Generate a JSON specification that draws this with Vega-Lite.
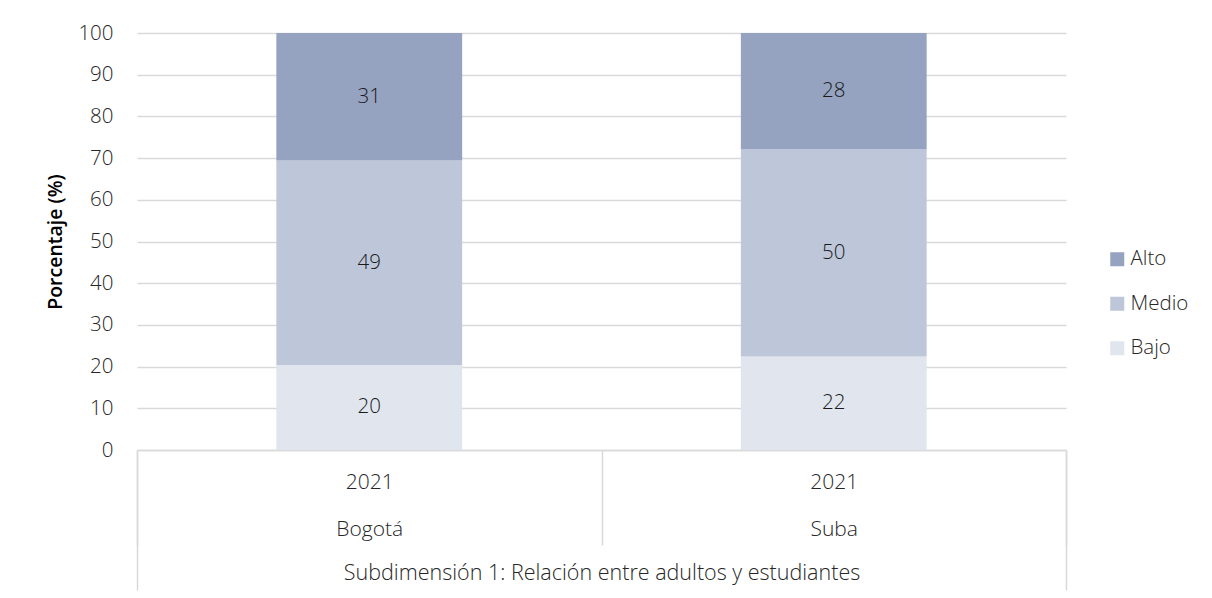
{
  "$schema": "https://vega.github.io/schema/vega-lite/v6.json",
  "width": 929,
  "height": 417,
  "autosize": {"type": "none"},
  "padding": {"left": 137, "top": 33, "right": 146, "bottom": 148},
  "background": "white",
  "config": {
    "font": "Open Sans",
    "view": {"stroke": null},
    "axis": {"labelFont": "Open Sans", "titleFont": "Open Sans"},
    "legend": {"labelFont": "Open Sans"}
  },
  "data": {
    "values": [
      {"loc": "Bogotá", "year": "2021", "nivel": "Bajo", "valor": 20.4},
      {"loc": "Bogotá", "year": "2021", "nivel": "Medio", "valor": 49.0},
      {"loc": "Bogotá", "year": "2021", "nivel": "Alto", "valor": 30.6},
      {"loc": "Suba", "year": "2021", "nivel": "Bajo", "valor": 22.4},
      {"loc": "Suba", "year": "2021", "nivel": "Medio", "valor": 49.8},
      {"loc": "Suba", "year": "2021", "nivel": "Alto", "valor": 27.8}
    ]
  },
  "transform": [
    {"calculate": "indexof(['Bajo','Medio','Alto'], datum.nivel)", "as": "orden"}
  ],
  "layer": [
    {
      "mark": {"type": "bar", "width": {"band": 0.4}},
      "encoding": {
        "x": {
          "field": "loc",
          "type": "nominal",
          "sort": ["Bogotá", "Suba"],
          "scale": {"paddingInner": 0, "paddingOuter": 0},
          "axis": {
            "orient": "bottom",
            "title": "Subdimensión 1: Relación entre adultos y estudiantes",
            "titleFontWeight": 300,
            "titleFontSize": 21.5,
            "titleColor": "#262626",
            "titleY": 123,
            "titleBaseline": "middle",
            "labelExpr": "datum.value ? ['2021', datum.value] : ''",
            "labelAngle": 0,
            "labelFontSize": 21,
            "labelFontWeight": 300,
            "labelColor": "#262626",
            "labelLineHeight": 47,
            "labelBaseline": "top",
            "labelPadding": -119,
            "tickBand": "extent",
            "tickSize": 140,
            "tickWidth": 1.5,
            "tickColor": {"condition": {"test": "datum.value === 'Bogotá'", "value": "transparent"}, "value": "#d9d9d9"},
            "domainColor": "#d9d9d9",
            "domainWidth": 1.5,
            "grid": false
          }
        },
        "y": {
          "field": "valor",
          "type": "quantitative",
          "stack": "zero",
          "scale": {"domain": [0, 100]},
          "axis": {
            "title": "Porcentaje (%)",
            "titleFontSize": 19.5,
            "titleFontWeight": 600,
            "titleColor": "black",
            "titlePadding": 12,
            "values": [0, 10, 20, 30, 40, 50, 60, 70, 80, 90, 100],
            "labelFontSize": 20.5,
            "labelFontWeight": 300,
            "labelColor": "#262626",
            "labelPadding": 24,
            "domain": false,
            "ticks": false,
            "grid": true,
            "gridColor": "#d9d9d9",
            "gridWidth": 1.5
          }
        },
        "color": {
          "field": "nivel",
          "type": "nominal",
          "sort": ["Alto", "Medio", "Bajo"],
          "scale": {"domain": ["Alto", "Medio", "Bajo"], "range": ["#95a3c0", "#bec7d9", "#e0e5ee"]},
          "legend": {
            "title": null,
            "orient": "none",
            "legendX": 970,
            "legendY": 216,
            "symbolType": "square",
            "symbolSize": 196,
            "symbolStrokeWidth": 0,
            "labelFontSize": 20.5,
            "labelFontWeight": 300,
            "labelColor": "#262626",
            "labelOffset": 3,
            "rowPadding": 23.5
          }
        },
        "order": {"field": "orden", "type": "quantitative", "sort": "ascending"}
      }
    },
    {
      "transform": [
        {"stack": "valor", "groupby": ["loc"], "sort": [{"field": "orden"}], "as": ["v0", "v1"]},
        {"calculate": "(datum.v0 + datum.v1) / 2", "as": "mid"}
      ],
      "mark": {"type": "text", "fontSize": 20.5, "fontWeight": 300, "color": "#1a1a1a", "baseline": "middle"},
      "encoding": {
        "x": {
          "field": "loc",
          "type": "nominal",
          "sort": ["Bogotá", "Suba"],
          "axis": {
            "orient": "bottom",
            "labels": false,
            "title": null,
            "domain": false,
            "grid": false,
            "tickBand": "extent",
            "tickSize": 95,
            "tickWidth": 1.5,
            "tickColor": "#d9d9d9"
          }
        },
        "y": {
          "field": "mid",
          "type": "quantitative",
          "axis": {
            "title": "Porcentaje (%)",
            "titleFontSize": 19.5,
            "titleFontWeight": 600,
            "titleColor": "black",
            "titlePadding": 12,
            "values": [0, 10, 20, 30, 40, 50, 60, 70, 80, 90, 100],
            "labelFontSize": 20.5,
            "labelFontWeight": 300,
            "labelColor": "#262626",
            "labelPadding": 24,
            "domain": false,
            "ticks": false,
            "grid": true,
            "gridColor": "#d9d9d9",
            "gridWidth": 1.5
          }
        },
        "text": {"field": "valor", "type": "quantitative", "format": ".0f"}
      }
    }
  ],
  "resolve": {"axis": {"x": "independent"}}
}
